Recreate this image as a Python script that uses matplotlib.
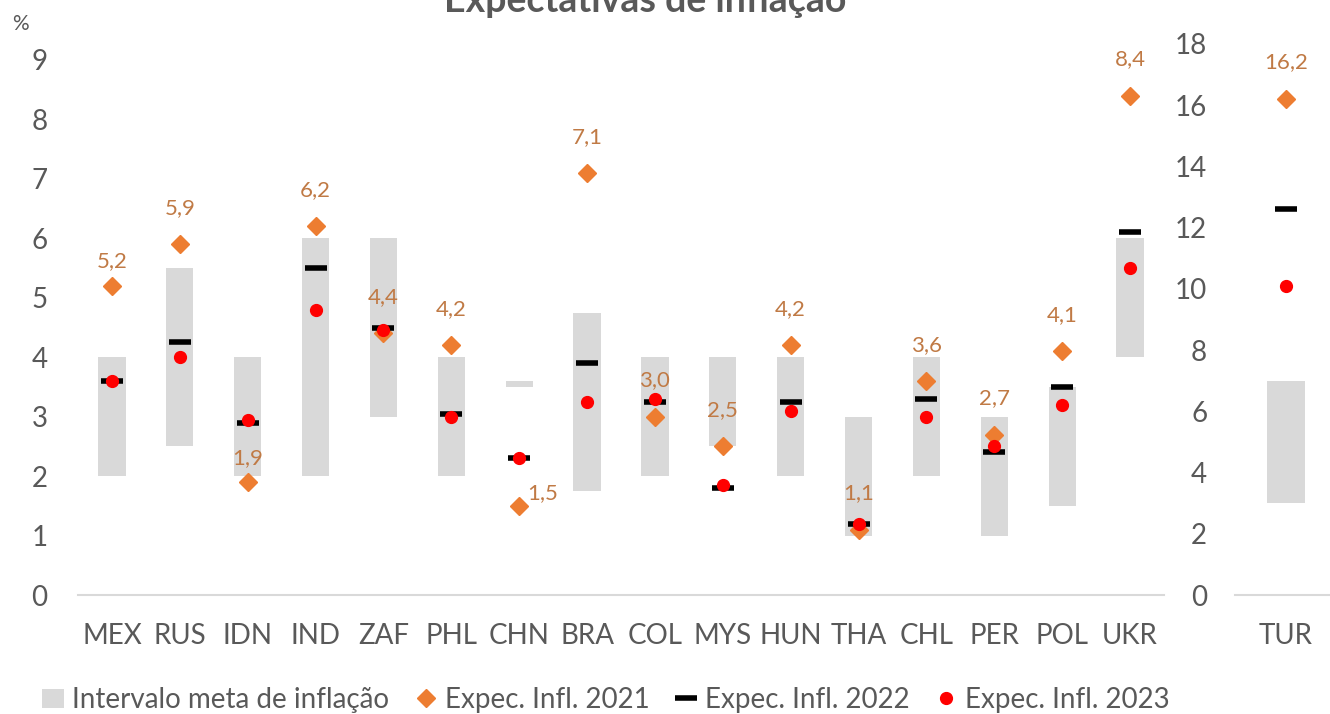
import matplotlib
matplotlib.use('Agg')
import matplotlib.pyplot as plt
from matplotlib.lines import Line2D
from matplotlib.patches import Patch
import numpy as np

# ---------------- data ----------------
countries = ['MEX', 'RUS', 'IDN', 'IND', 'ZAF', 'PHL', 'CHN', 'BRA',
             'COL', 'MYS', 'HUN', 'THA', 'CHL', 'PER', 'POL', 'UKR']
target_low = [2.0, 2.5, 2.0, 2.0, 3.0, 2.0, 3.5, 1.75, 2.0, 2.5, 2.0, 1.0, 2.0, 1.0, 1.5, 4.0]
target_high = [4.0, 5.5, 4.0, 6.0, 6.0, 4.0, 3.6, 4.75, 4.0, 4.0, 4.0, 3.0, 4.0, 3.0, 3.5, 6.0]
exp2021 = [5.2, 5.9, 1.9, 6.2, 4.4, 4.2, 1.5, 7.1, 3.0, 2.5, 4.2, 1.1, 3.6, 2.7, 4.1, 8.4]
exp2022 = [3.6, 4.25, 2.9, 5.5, 4.5, 3.05, 2.3, 3.9, 3.25, 1.8, 3.25, 1.2, 3.3, 2.4, 3.5, 6.1]
exp2023 = [3.6, 4.0, 2.95, 4.8, 4.45, 3.0, 2.3, 3.25, 3.3, 1.85, 3.1, 1.2, 3.0, 2.5, 3.2, 5.5]

tur_label = ['TUR']
tur_low = [3.0]
tur_high = [7.0]
tur2021 = [16.2]
tur2022 = [12.6]
tur2023 = [10.1]

left_ticks = list(range(0, 10))
right_ticks = list(range(0, 20, 2))

title = 'Expectativas de inflação'
legend_labels = ['Intervalo meta de inflação', 'Expec. Infl. 2021',
                 'Expec. Infl. 2022', 'Expec. Infl. 2023']

# ---------------- style ----------------
FONT = ['Lato', 'DejaVu Sans']
plt.rcParams['font.family'] = FONT
GRAY_TXT = '#595959'
BAR = '#d9d9d9'
ORANGE = '#ED7D31'
LBL = '#C07A45'
RED = '#FF0000'

W, H = 1330, 714
fig = plt.figure(figsize=(W / 100, H / 100), dpi=100)

ax1 = fig.add_axes([78 / W, 119 / H, (1164 - 78) / W, 535 / H])
ax2 = fig.add_axes([1235 / W, 119 / H, 95 / W, 551 / H])


def fmt(v):
    return f'{v:.1f}'.replace('.', ',')


def style_axis(ax, pad_y):
    for s in ['top', 'right', 'left']:
        ax.spines[s].set_visible(False)
    ax.spines['bottom'].set_color(BAR)
    ax.spines['bottom'].set_linewidth(1.5)
    ax.tick_params(axis='both', length=0, labelsize=20, labelcolor=GRAY_TXT)
    ax.tick_params(axis='x', pad=20)
    ax.tick_params(axis='y', pad=pad_y)


def draw(ax, x, low, high, e21, e22, e23, width, offsets):
    heights = [h - l for h, l in zip(high, low)]
    ax.bar(x, heights, bottom=low, width=width, color=BAR, zorder=1)
    ax.plot(x, e21, linestyle='none', marker='D', markersize=9.5,
            color=ORANGE, zorder=3)
    ax.plot(x, e22, linestyle='none', marker='_', markersize=16,
            markeredgewidth=4, color='black', zorder=4)
    ax.plot(x, e23, linestyle='none', marker='o', markersize=8.5,
            color=RED, zorder=5)
    for xi, v, off in zip(x, e21, offsets):
        ax.annotate(fmt(v), (xi, v), xytext=off, textcoords='offset points',
                    ha='center', va='center', fontsize=16, color=LBL, zorder=6)


# left panel
x1 = np.arange(len(countries))
default_off = (0, 26)
offsets1 = [default_off] * len(countries)
offsets1[0] = (0, 18)   # MEX
offsets1[2] = (0, 17)   # IDN
offsets1[6] = (17, 9)   # CHN
draw(ax1, x1, target_low, target_high, exp2021, exp2022, exp2023, 0.4, offsets1)
ax1.set_xlim(-0.5, len(countries) - 0.5)
ax1.set_ylim(0, 9)
ax1.set_yticks(left_ticks)
ax1.set_xticks(x1)
ax1.set_xticklabels(countries)
style_axis(ax1, 22)

# right panel (TUR)
x2 = np.arange(len(tur_label))
draw(ax2, x2, tur_low, tur_high, tur2021, tur2022, tur2023, 0.39, [(0, 27)])
ax2.set_xlim(-0.537, 0.463)
ax2.set_ylim(0, 18)
ax2.set_yticks(right_ticks)
ax2.set_xticks(x2)
ax2.set_xticklabels(tur_label)
style_axis(ax2, 20)

# texts
fig.text(20 / W, 1 - 24 / H, '%', fontsize=15, color=GRAY_TXT,
         ha='center', va='center')
fig.text(645 / W, 1 - 12 / H, title, fontsize=27, fontweight='bold',
         color=GRAY_TXT, ha='center', va='baseline')

handles = [
    Patch(facecolor=BAR, edgecolor='none'),
    Line2D([], [], linestyle='none', marker='D', markersize=9, color=ORANGE),
    Line2D([], [], linestyle='none', marker='_', markersize=16,
           markeredgewidth=4, color='black'),
    Line2D([], [], linestyle='none', marker='o', markersize=8.5, color=RED),
]
fig.legend(handles, legend_labels, loc='center', ncol=4,
           bbox_to_anchor=(606 / W, 14 / H), frameon=False,
           fontsize=20, labelcolor=GRAY_TXT, handlelength=0.8,
           handletextpad=0.3, columnspacing=0.9, borderaxespad=0)

fig.savefig('out.png', dpi=100)
